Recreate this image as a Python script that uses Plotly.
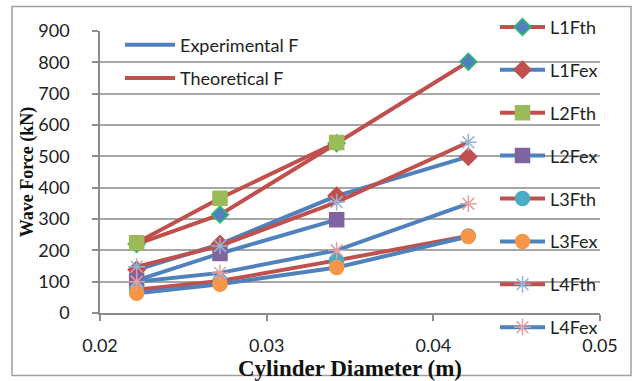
import plotly.graph_objects as go

diam = [0.0222, 0.0272, 0.0342, 0.0421]

L1Fth = [220, 314, 542, 802]
L1Fex = [138, 220, 374, 499]
L2Fth = [224, 366, 544]
L2Fex = [104, 190, 298]
L3Fth = [74, 102, 168, 246]
L3Fex = [63, 92, 145, 244]
L4Fth = [148, 214, 354, 545]
L4Fex = [100, 128, 200, 349]

BLUE = "#4F81BD"
RED = "#C0504D"

series = [
    ("L1Fth", L1Fth, RED, "diamond", "#4F81BD", "#2DBE6C", 13),
    ("L1Fex", L1Fex, BLUE, "diamond", "#C0504D", "#C0504D", 13),
    ("L2Fth", L2Fth, RED, "square", "#9BBB59", "#9BBB59", 14),
    ("L2Fex", L2Fex, BLUE, "square", "#8064A2", "#8064A2", 14),
    ("L3Fth", L3Fth, RED, "circle", "#4BACC6", "#4BACC6", 14),
    ("L3Fex", L3Fex, BLUE, "circle", "#F79646", "#F79646", 14),
    ("L4Fth", L4Fth, RED, "asterisk-open", "#95B3D7", "#95B3D7", 14),
    ("L4Fex", L4Fex, BLUE, "asterisk-open", "#E6A0A0", "#E6A0A0", 14),
]

fig = go.Figure()
for i, (name, vals, lc, sym, fc, mc, ms) in enumerate(series):
    fig.add_trace(go.Scatter(
        x=diam[:len(vals)], y=vals, name=name, mode="lines+markers",
        line=dict(color=lc, width=4),
        marker=dict(symbol=sym, size=ms, color=fc,
                    line=dict(color=mc, width=1.5)),
        legend="legend", legendgroup=name,
    ))

fig.add_trace(go.Scatter(x=[None], y=[None], name="Experimental F", mode="lines",
                         line=dict(color=BLUE, width=4), legend="legend2",
                         legendgroup="exp"))
fig.add_trace(go.Scatter(x=[None], y=[None], name="Theoretical F", mode="lines",
                         line=dict(color=RED, width=4), legend="legend2",
                         legendgroup="theo"))

FONT = "Lato, Open Sans, sans-serif"
tickfont = dict(family=FONT, size=18, color="#222222")

fig.update_layout(
    width=639, height=381,
    margin=dict(l=100, r=39, t=31, b=68, autoexpand=False),
    paper_bgcolor="white", plot_bgcolor="white",
    showlegend=True,
    xaxis=dict(
        range=[0.02, 0.05], dtick=0.01, tick0=0.02, tickformat=".2f",
        showgrid=False, zeroline=False, automargin=False,
        showline=True, linecolor="#8c8c8c", linewidth=1.5,
        ticks="outside", ticklen=6, tickcolor="#8c8c8c", tickwidth=1.5,
        tickfont=tickfont, ticklabelstandoff=10,
        title=dict(text="<b>Cylinder Diameter (m)</b>",
                   font=dict(family="Liberation Serif, Times New Roman, serif", size=23, color="#111111"),
                   standoff=1),
    ),
    yaxis=dict(
        range=[0, 900], dtick=100, automargin=False,
        showgrid=True, gridcolor="#a6a6a6", gridwidth=1.5,
        zeroline=False,
        showline=True, linecolor="#8c8c8c", linewidth=1.5,
        ticks="outside", ticklen=6, tickcolor="#8c8c8c", tickwidth=1.5,
        tickfont=tickfont, ticklabelstandoff=19,
        title=dict(text="<b>Wave Force (kN)</b>",
                   font=dict(family="Liberation Serif, Times New Roman, serif", size=18, color="#111111"),
                   standoff=0),
    ),
    legend=dict(
        x=0.79, y=1.079, xanchor="left", yanchor="top",
        bgcolor="rgba(0,0,0,0)", borderwidth=0,
        font=dict(family=FONT, size=18, color="#222222"),
        tracegroupgap=16.5, itemwidth=45, maxheight=400,
    ),
    legend2=dict(
        x=0.04, y=1.016, xanchor="left", yanchor="top",
        bgcolor="rgba(0,0,0,0)", borderwidth=0,
        font=dict(family=FONT, size=18, color="#222222"),
        tracegroupgap=7, itemwidth=50, maxheight=400,
    ),
    shapes=[dict(type="rect", xref="paper", yref="paper",
                 x0=-0.176, x1=1.062, y0=-0.222, y1=1.087,
                 line=dict(color="#a0a0a0", width=1.5), fillcolor="rgba(0,0,0,0)",
                 layer="below")],
)

fig.write_html("out.html")
